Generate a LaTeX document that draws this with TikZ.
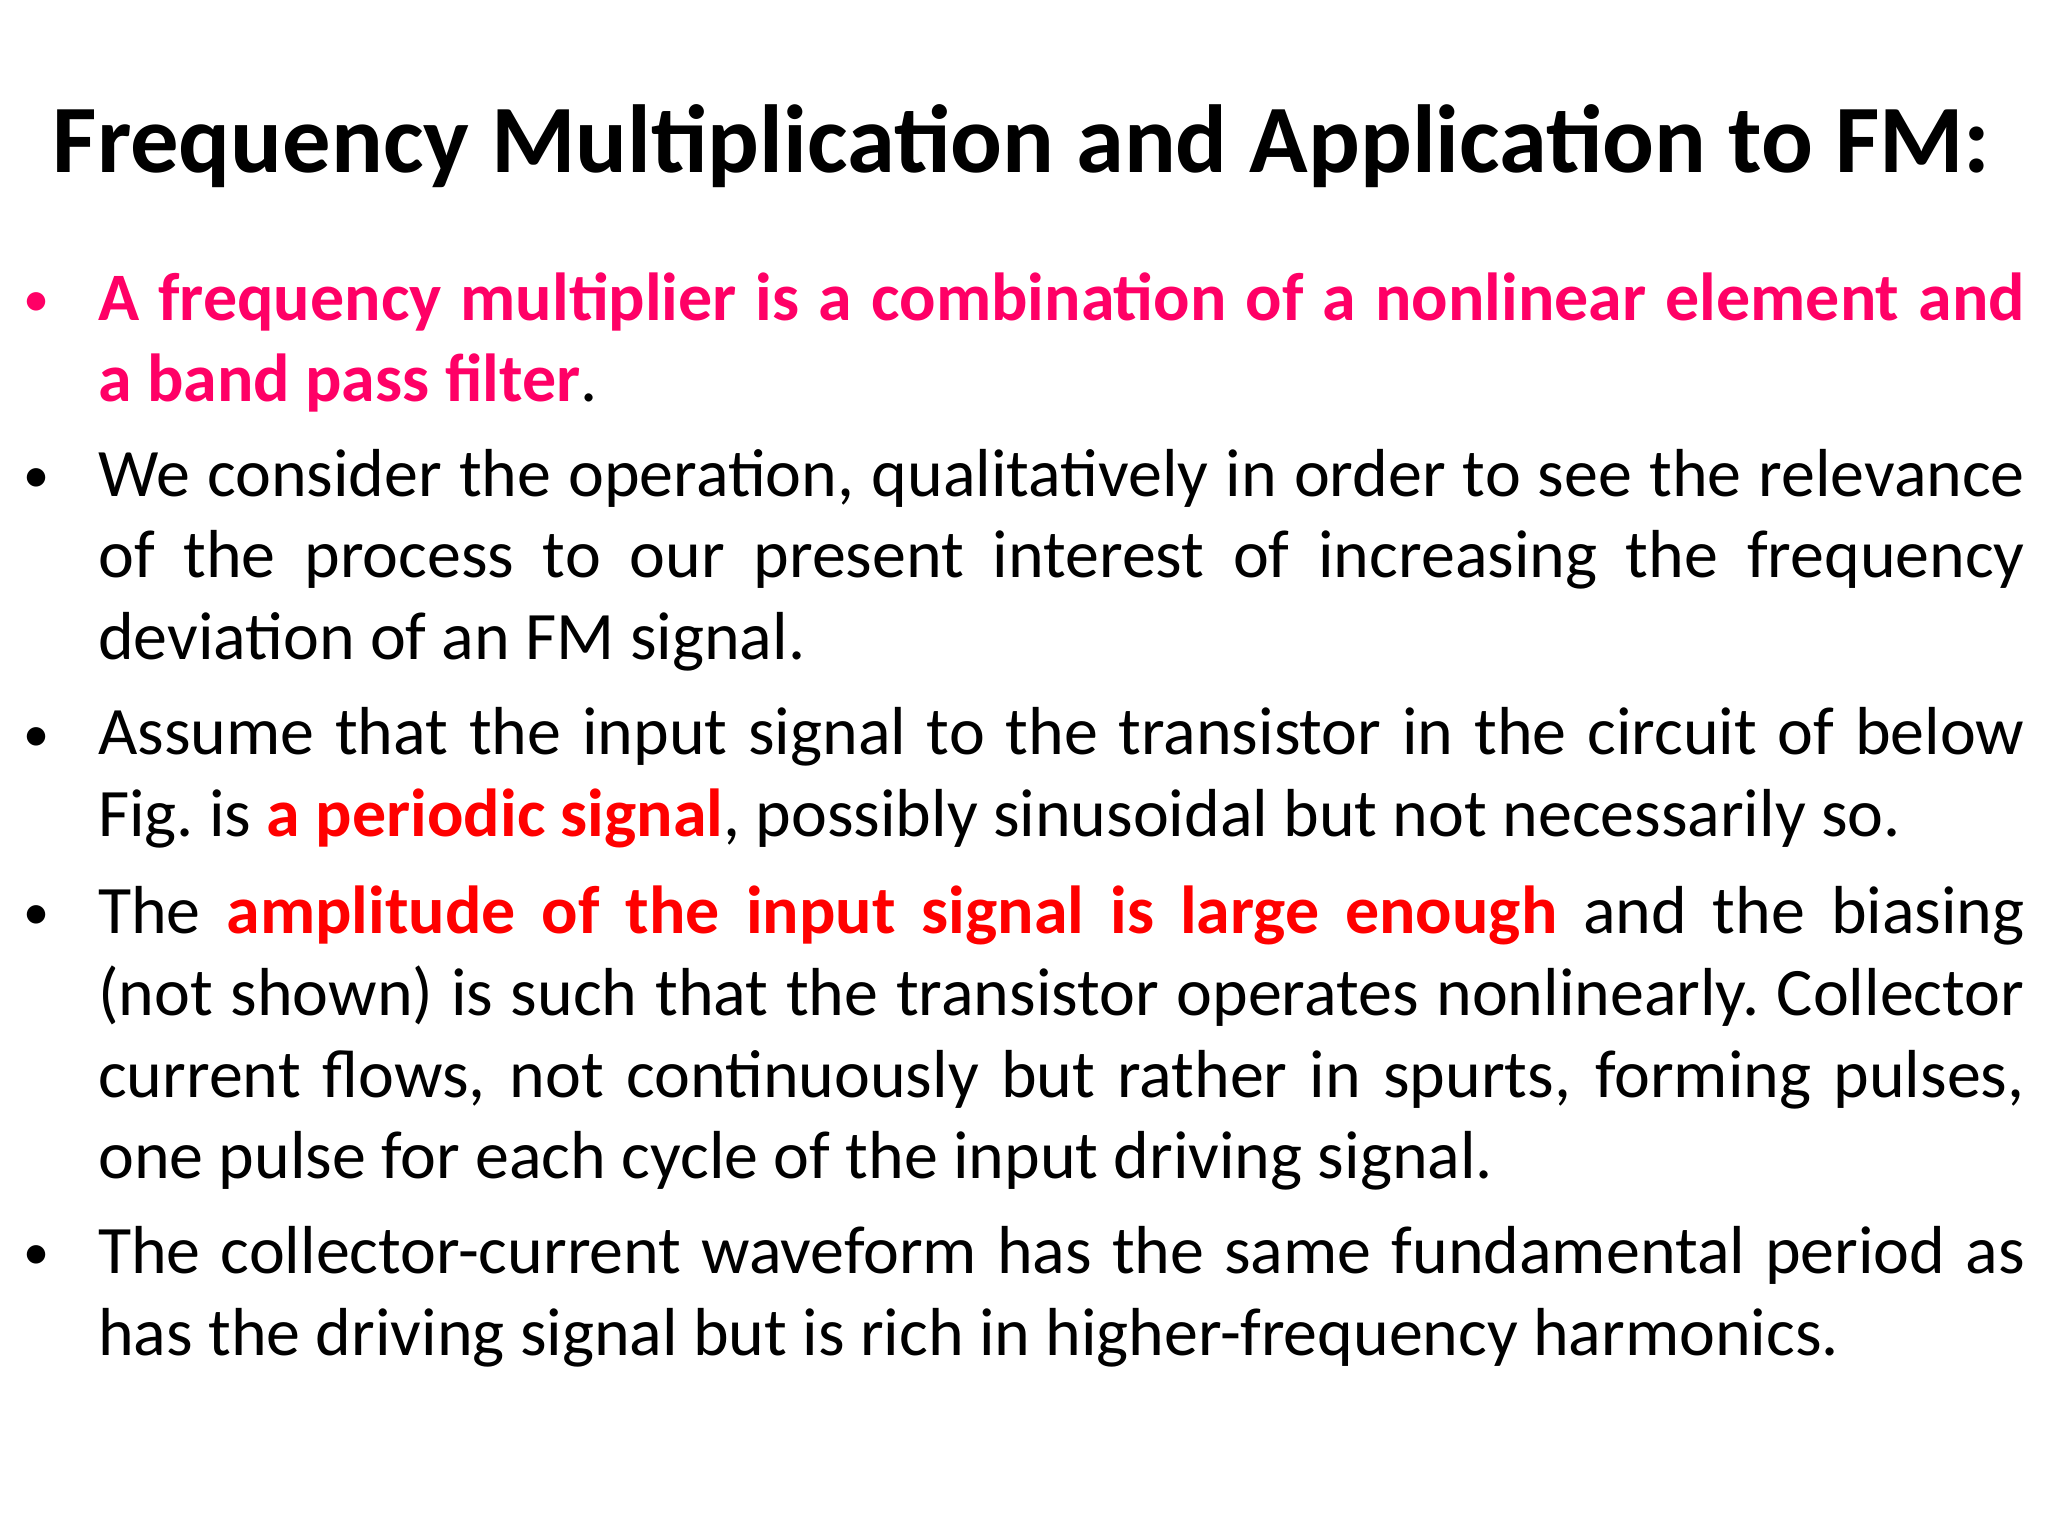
\documentclass[tikz,border=0pt]{standalone}
\usepackage{fontspec}
\setmainfont{Carlito}
\definecolor{pinkc}{HTML}{FF0066}
\definecolor{redc}{HTML}{FF0000}
\begin{document}
\begin{tikzpicture}[x=1pt,y=1pt]
\useasboundingbox[fill=white] (0,0) rectangle (1568,-1176);
\tikzset{para/.style={anchor=base west,inner sep=0pt},
  bul/.style={anchor=base west,inner sep=0pt,font=\fontsize{40}{62.5}\selectfont}}
\newcommand{\bodytext}[1]{\parbox[t]{1475pt}{\fontsize{52}{62.5}\selectfont\hyphenpenalty=10000\exhyphenpenalty=10000 #1}}
\node[anchor=base,inner sep=0pt,font=\fontsize{74}{90}\selectfont\bfseries] (title) at (782,-132) {Frequency Multiplication and Application to FM:};
% bullet 1
\node[bul,text=pinkc] (b1) at (18,-242) {•};
\node[para] (p1) at (75,-245) {\bodytext{\textcolor{pinkc}{\textbf{A frequency multiplier is a combination of a nonlinear element and\linebreak a band pass filter}}.}};
% bullet 2
\node[bul] (b2) at (18,-377) {•};
\node[para] (p2) at (75,-380) {\bodytext{We consider the operation, qualitatively in order to see the relevance\linebreak of the process to our present interest of increasing the frequency\linebreak deviation of an FM signal.}};
% bullet 3
\node[bul] (b3) at (18,-575) {•};
\node[para] (p3) at (75,-578) {\bodytext{Assume that the input signal to the transistor in the circuit of below\linebreak Fig.\ is \textcolor{redc}{\textbf{a periodic signal}}, possibly sinusoidal but not necessarily so.}};
% bullet 4
\node[bul] (b4) at (18,-712) {•};
\node[para] (p4) at (75,-715) {\bodytext{The \textcolor{redc}{\textbf{amplitude of the input signal is large enough}} and the biasing\linebreak (not shown) is such that the transistor operates nonlinearly.\ Collector\linebreak current flows, not continuously but rather in spurts, forming pulses,\linebreak one pulse for each cycle of the input driving signal.}};
% bullet 5
\node[bul] (b5) at (18,-972) {•};
\node[para] (p5) at (75,-975) {\bodytext{The collector-current waveform has the same fundamental period as\linebreak has the driving signal but is rich in higher-frequency harmonics.}};
\end{tikzpicture}
\end{document}
